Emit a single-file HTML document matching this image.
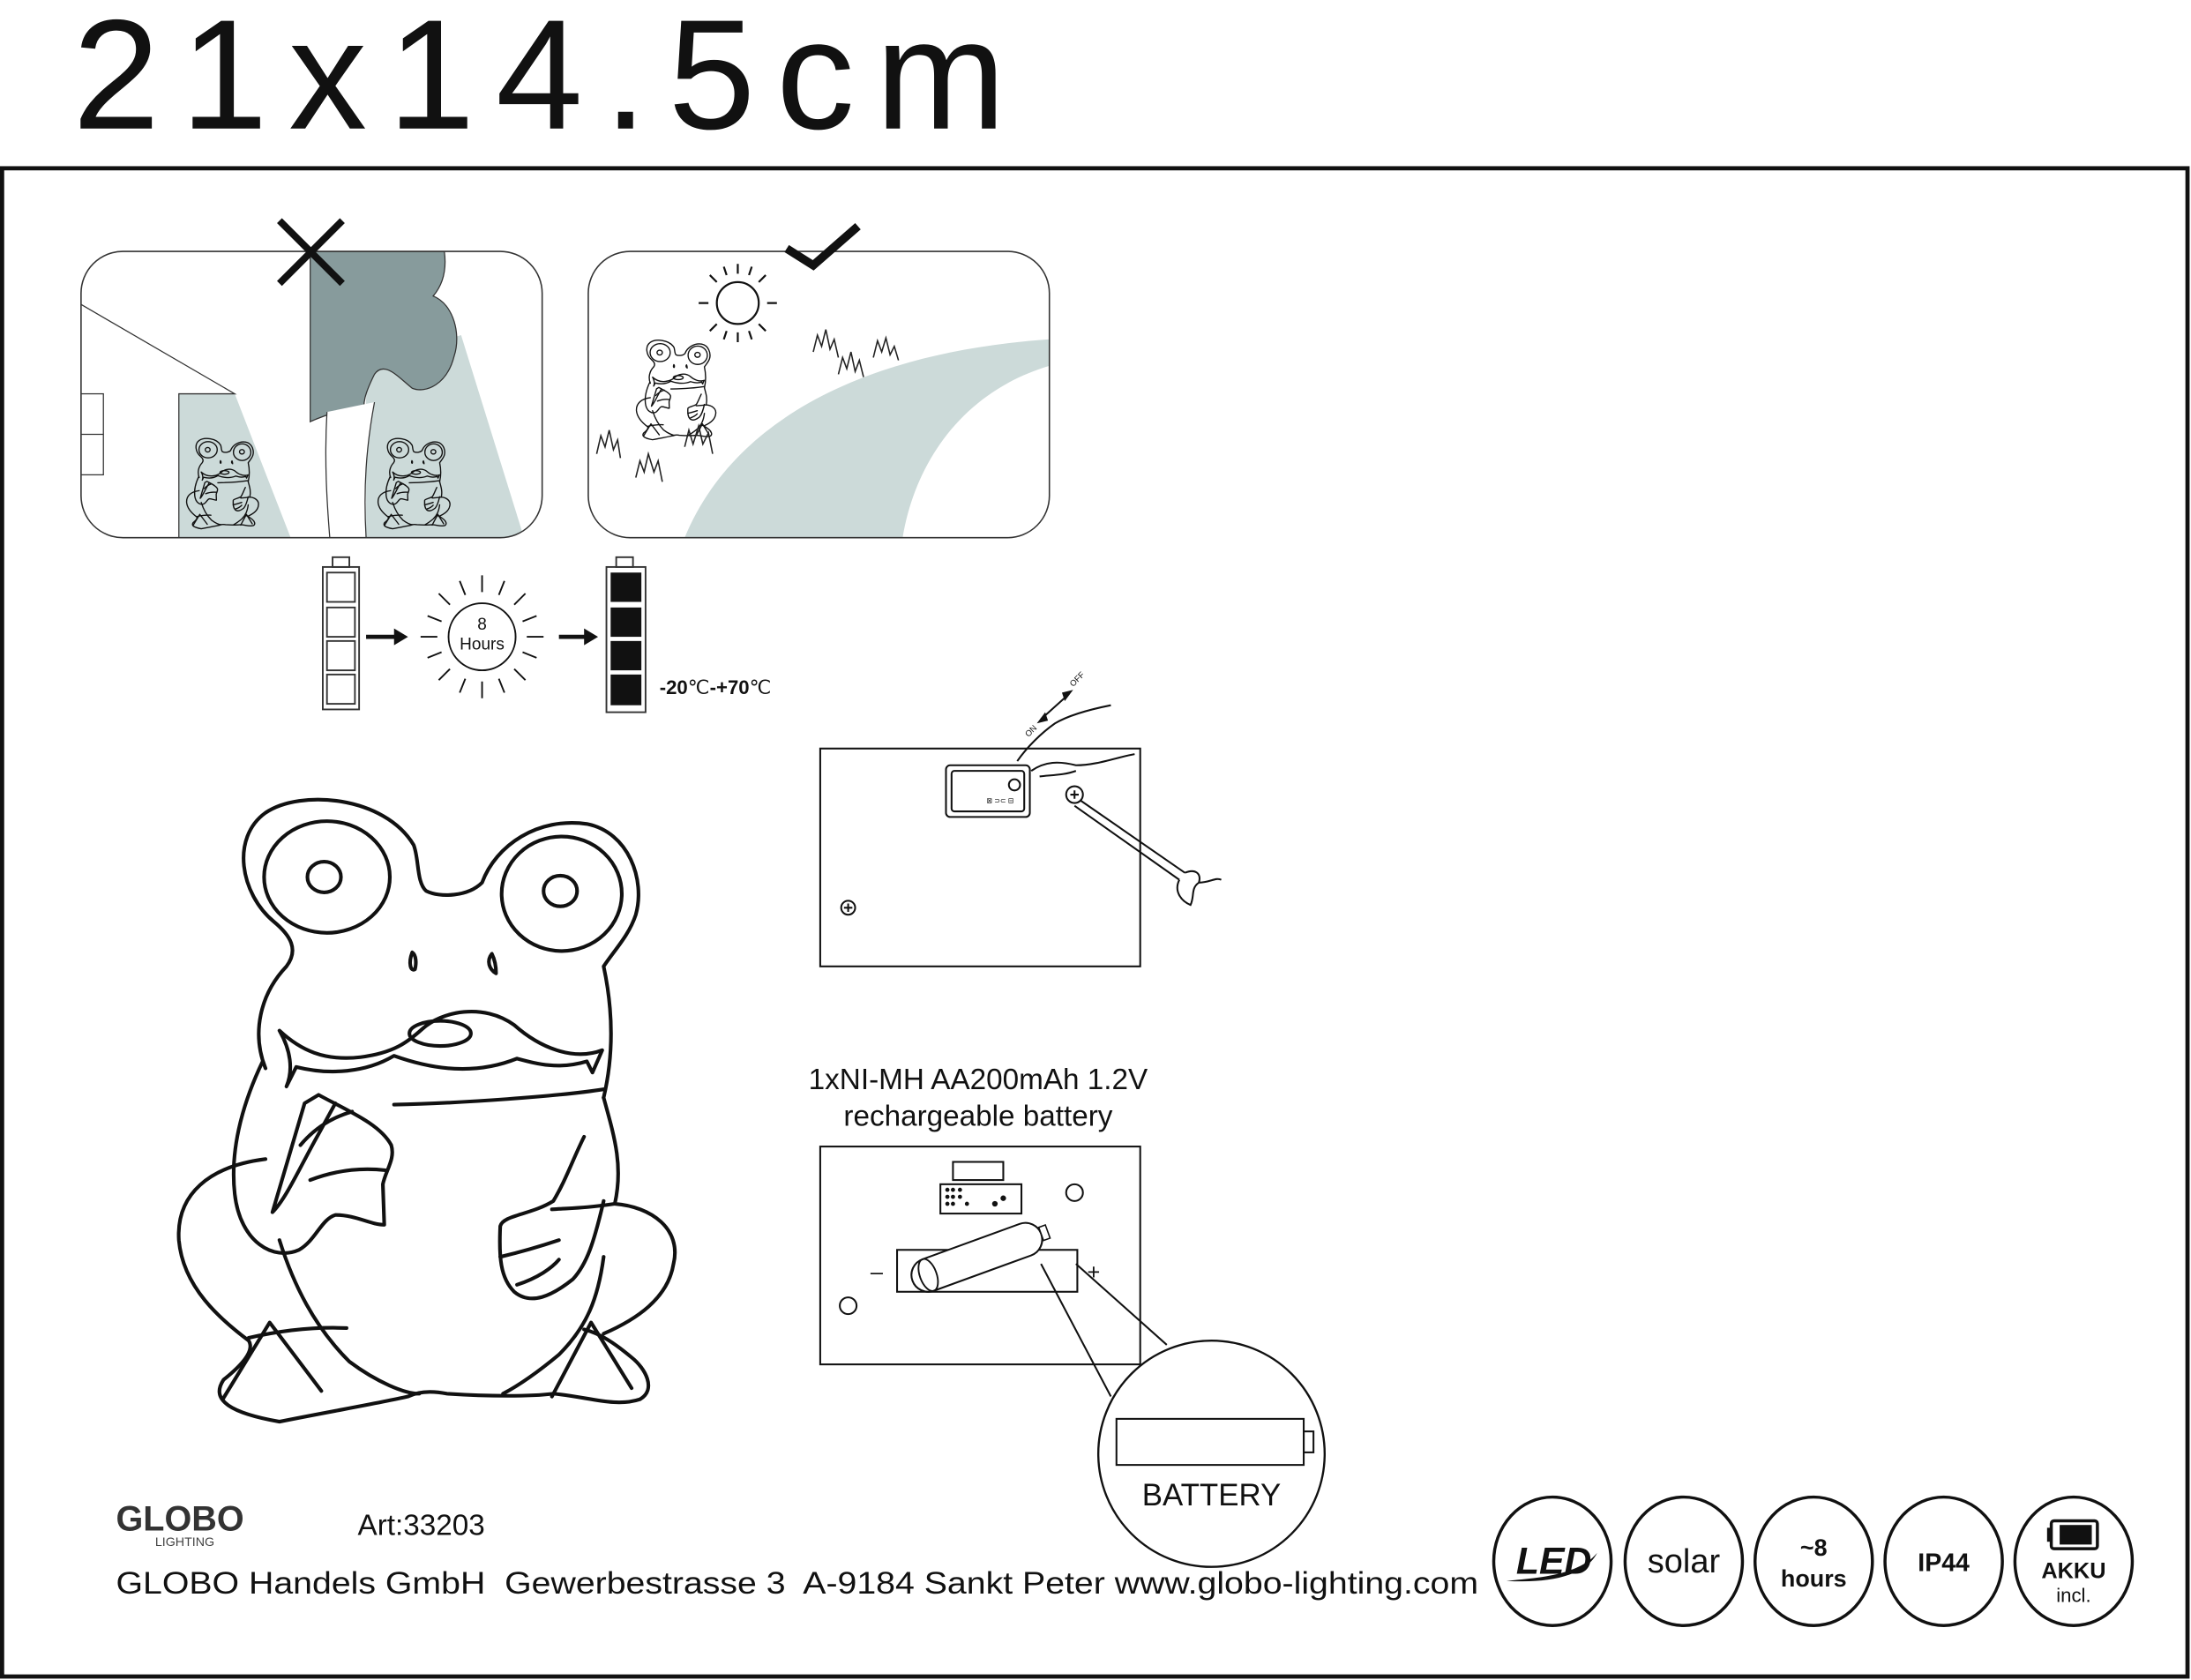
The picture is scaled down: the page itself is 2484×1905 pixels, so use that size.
<!DOCTYPE html>
<html><head><meta charset="utf-8"><style>
html,body{margin:0;padding:0;background:#fff}
svg{display:block}
text{font-family:"Liberation Sans",sans-serif;fill:#111}
</style></head><body>
<svg width="2484" height="1905" viewBox="0 0 1568 1203" preserveAspectRatio="none" xmlns="http://www.w3.org/2000/svg">
<defs>
<g id="frog" fill="none" stroke="#111" stroke-linecap="round" stroke-linejoin="round">
<path d="M190,765 C180,740 186,712 205,692 C214,680 208,670 196,660 C172,640 165,600 190,582 C215,565 275,570 296,605 C300,615 298,632 305,638 C315,643 335,642 345,632 C355,605 385,585 420,590 C450,596 462,630 455,655 C450,670 440,680 432,692 C438,720 440,752 432,786"/>
<ellipse cx="234" cy="628" rx="45" ry="40"/><ellipse cx="232" cy="628" rx="12" ry="11"/>
<ellipse cx="402" cy="640" rx="43" ry="41"/><ellipse cx="401" cy="638" rx="12" ry="11"/>
<path d="M295,682 C292,690 294,696 297,694 C298,690 298,684 295,682 Z"/>
<path d="M352,683 C348,688 350,694 355,697 C355,692 354,687 352,683 Z"/>
<path d="M200,738 C215,752 232,760 258,757 C282,754 292,746 302,737 C316,724 346,718 368,734 C386,750 410,760 431,752 L424,768 L420,760 C400,766 385,762 370,758 C340,770 310,766 282,756 C262,768 236,770 212,764 L205,778 C210,766 208,752 200,738 Z"/>
<ellipse cx="315" cy="740" rx="22" ry="9"/>
<path d="M282,791 C330,790 400,785 432,780"/>
<path d="M188,760 C176,785 164,820 168,855 C172,890 196,903 214,895 C226,888 230,873 240,870 C255,870 265,877 275,877 L274,848 C276,838 283,830 280,820 C272,805 250,796 228,784 L218,790 L195,868 C205,858 215,835 228,812 L240,790"/>
<path d="M215,820 C225,808 238,800 252,796"/>
<path d="M222,845 C240,838 258,836 276,838"/>
<path d="M190,830 C150,835 126,855 128,888 C131,922 158,945 178,960 C183,968 170,980 160,988 C150,1003 166,1012 200,1018 C240,1010 270,1005 292,1000 C300,996 310,996 320,998 C350,1000 380,1000 396,998 C420,1000 440,1008 458,1002 C470,995 462,980 452,972 C440,962 430,955 418,952"/>
<path d="M178,958 C200,953 225,950 248,951"/>
<path d="M160,1001 L193,947 L230,996"/>
<path d="M395,1000 L423,947 L452,994"/>
<path d="M432,786 C440,815 446,835 440,862 C466,864 488,880 482,905 C478,930 455,945 432,955 M440,862 C420,865 410,865 395,866"/>
<path d="M418,814 C410,830 405,845 396,860 C380,870 360,870 358,878 C357,900 358,915 368,925 C380,935 395,928 410,916 C420,905 425,890 432,860"/>
<path d="M358,900 C375,896 388,892 400,888 M370,920 C385,915 395,908 400,902"/>
<path d="M200,888 C210,920 225,950 250,975 C270,990 290,998 300,998"/>
<path d="M432,900 C428,930 420,950 400,970 C388,980 375,990 360,998"/>
</g>
</defs>

<text x="52" y="92" font-size="112" letter-spacing="15">21x14.5cm</text>
<rect x="1.5" y="120.5" width="1564" height="1080" fill="none" stroke="#111" stroke-width="3"/>

<!-- panel 1 -->
<clipPath id="c1"><rect x="58" y="180" width="330" height="205" rx="30"/></clipPath>
<g clip-path="url(#c1)">
<polygon points="128,282 168,282 208,385 128,385" fill="#ccdad9"/>
<polygon points="262,260 330,240 375,385 262,385" fill="#ccdad9"/>
<path d="M222,180 L318,180 C320,195 316,205 310,212 C325,218 330,240 325,255 C320,275 305,282 295,278 C285,270 275,258 268,268 C262,280 258,290 262,300 L250,300 C248,295 245,293 240,295 C232,298 226,300 222,302 Z" fill="#879b9c" stroke="#333" stroke-width="0.8"/>
<path d="M234,295 C232,330 234,360 236,385 L262,385 C260,350 262,320 268,288" fill="#fff" stroke="#333" stroke-width="0.8"/>
<path d="M58,218 L168,282 L128,282 L128,385" fill="none" stroke="#333" stroke-width="0.8"/>
<rect x="58" y="282" width="16" height="58" fill="none" stroke="#333" stroke-width="0.8"/>
<line x1="58" y1="311" x2="74" y2="311" stroke="#333" stroke-width="0.8"/>
<use href="#frog" transform="translate(115,231) scale(0.145)" stroke-width="6"/>
<use href="#frog" transform="translate(252,231) scale(0.145)" stroke-width="6"/>
</g>
<rect x="58" y="180" width="330" height="205" rx="30" fill="none" stroke="#333" stroke-width="1"/>
<path d="M200,158 L245,203 M245,158 L200,203" stroke="#111" stroke-width="5"/>

<!-- panel 2 -->
<clipPath id="c2"><rect x="421" y="180" width="330" height="205" rx="30"/></clipPath>
<g clip-path="url(#c2)">
<path d="M490,385 C525,300 620,252 751,243 L751,262 C690,280 655,330 646,385 Z" fill="#ccdad9"/>
<use href="#frog" transform="translate(435,152) scale(0.16)" stroke-width="5.5"/>
<path d="M427,325 L430,312 L433,320 L436,308 L439,322 L442,315 L444,328 M455,342 L458,330 L461,338 L464,325 L468,338 L471,330 L474,345 M490,320 L493,308 L496,318 L500,305 L503,318 L507,310 L510,325 M582,252 L585,240 L588,248 L591,236 L594,250 L597,243 L600,256 M600,268 L603,256 L606,264 L609,252 L612,266 L615,258 L618,270 M625,256 L628,244 L631,252 L634,242 L637,254 L640,248 L643,258" fill="none" stroke="#222" stroke-width="1"/>
</g>
<rect x="421" y="180" width="330" height="205" rx="30" fill="none" stroke="#333" stroke-width="1"/>
<path d="M563,178 L582,190 L614,162" fill="none" stroke="#111" stroke-width="6"/>
<g stroke="#111" stroke-width="1.4" fill="none">
<circle cx="528" cy="217" r="15"/>
<path d="M528,196 V189 M528,238 V245 M507,217 H500 M549,217 H556 M513,202 L508,197 M543,202 L548,197 M513,232 L508,237 M543,232 L548,237 M520,197 L518,191 M536,197 L538,191 M520,237 L518,243 M536,237 L538,243"/>
</g>

<!-- battery sequence -->
<g fill="none" stroke="#333" stroke-width="1.2">
<rect x="238" y="399" width="12" height="7"/>
<rect x="231" y="406" width="26" height="102"/>
<rect x="234" y="410" width="20" height="21"/><rect x="234" y="435" width="20" height="21"/><rect x="234" y="459" width="20" height="21"/><rect x="234" y="483" width="20" height="21"/>
<rect x="441" y="399" width="12" height="7"/>
<rect x="434" y="406" width="28" height="104"/>
</g>
<g fill="#111"><rect x="437" y="410" width="22" height="21"/><rect x="437" y="435" width="22" height="21"/><rect x="437" y="459" width="22" height="21"/><rect x="437" y="483" width="22" height="22"/></g>
<path d="M262,456 H283" stroke="#111" stroke-width="3"/><polygon points="282,450 292,456 282,462" fill="#111"/>
<path d="M400,456 H419" stroke="#111" stroke-width="3"/><polygon points="418,450 428,456 418,462" fill="#111"/>
<g stroke="#111" stroke-width="1.2" fill="none">
<circle cx="345" cy="456" r="24"/>
<path d="M345,424 V412 M345,488 V500 M313,456 H301 M377,456 H389 M322,433 L314,425 M368,433 L376,425 M322,479 L314,487 M368,479 L376,487 M333,426 L329,416 M357,426 L361,416 M333,486 L329,496 M357,486 L361,496 M316,445 L306,441 M374,445 L384,441 M316,467 L306,471 M374,467 L384,471"/>
</g>
<text x="345" y="451" font-size="12" text-anchor="middle">8</text>
<text x="345" y="465" font-size="12" text-anchor="middle">Hours</text>
<text x="472" y="497" font-size="14" font-weight="bold">-20<tspan font-weight="normal">℃</tspan>-+70<tspan font-weight="normal">℃</tspan></text>

<!-- big frog -->
<use href="#frog" stroke-width="2.6"/>

<!-- switch box -->
<g fill="none" stroke="#111" stroke-width="1.3">
<rect x="587" y="536" width="229" height="156"/>
<rect x="677" y="548" width="60" height="37" rx="3"/>
<rect x="681" y="552" width="52" height="29" rx="2"/>
<circle cx="607" cy="650" r="5"/><path d="M604,650 H610 M607,647 V653"/>
<circle cx="769" cy="569" r="6"/><path d="M766,569 H772 M769,566 V572"/>
<path d="M773,573 L848,625 M769,577 L844,630"/>
<path d="M848,625 C855,622 860,625 858,632 C866,632 870,628 874,630 M844,630 C840,638 845,645 852,648 C855,642 852,636 858,632"/>
<path d="M728,545 C735,535 745,525 755,518 C765,512 780,508 795,505 M738,552 C748,545 758,545 770,548 C785,548 800,542 812,540 M744,556 C752,555 762,555 770,552"/>
<circle cx="726" cy="562" r="4"/>
<path d="M745,515 L765,497"/>
</g>
<polygon points="742,518 748,510 750,516" fill="#111"/><polygon points="768,494 762,502 760,496" fill="#111"/>
<text x="736" y="528" font-size="6" transform="rotate(-45 736 528)">ON</text>
<text x="768" y="492" font-size="6" transform="rotate(-45 768 492)">OFF</text>
<text x="706" y="575" font-size="5">⊠ ⊃⊂ ⊟</text>

<!-- battery box -->
<text x="700" y="780" font-size="21" text-anchor="middle">1xNI-MH AA200mAh 1.2V</text>
<text x="700" y="806" font-size="21" text-anchor="middle">rechargeable battery</text>
<g fill="none" stroke="#111" stroke-width="1.3">
<rect x="587" y="821" width="229" height="156"/>
<rect x="682" y="832" width="36" height="13"/>
<rect x="673" y="848" width="58" height="21"/>
<circle cx="769" cy="854" r="6"/>
<circle cx="607" cy="935" r="6"/>
<rect x="642" y="895" width="129" height="30"/>
<path d="M745,905 L795,1000 M770,905 L835,963"/>
</g>
<g fill="#111">
<circle cx="678" cy="852" r="1.5"/><circle cx="682" cy="852" r="1.5"/><circle cx="678" cy="857" r="1.5"/><circle cx="682" cy="857" r="1.5"/><circle cx="678" cy="862" r="1.5"/><circle cx="682" cy="862" r="1.5"/><circle cx="687" cy="852" r="1.5"/><circle cx="687" cy="857" r="1.5"/><circle cx="692" cy="862" r="1.5"/><circle cx="712" cy="862" r="2"/><circle cx="718" cy="858" r="2"/>
</g>
<g transform="rotate(-20 700 900)">
<rect x="650" y="888" width="98" height="24" rx="12" fill="#fff" stroke="#111" stroke-width="1.3"/>
<ellipse cx="662" cy="900" rx="6" ry="12" fill="none" stroke="#111" stroke-width="1.2"/>
<rect x="748" y="895" width="5" height="10" fill="#fff" stroke="#111"/>
</g>
<text x="623" y="916" font-size="16">–</text>
<text x="778" y="916" font-size="16">+</text>
<circle cx="867" cy="1041" r="81" fill="#fff" stroke="#111" stroke-width="1.5"/>
<rect x="799" y="1016" width="134" height="33" fill="none" stroke="#111" stroke-width="1.3"/>
<rect x="933" y="1025" width="7" height="15" fill="none" stroke="#111" stroke-width="1.3"/>
<text x="867" y="1078" font-size="22" text-anchor="middle">BATTERY</text>

<!-- footer -->
<text x="83" y="1096" font-size="25" font-weight="bold" style="fill:#333">GLOBO</text>
<text x="111" y="1107" font-size="9" style="fill:#444">LIGHTING</text>
<text x="256" y="1099" font-size="21">Art:33203</text>
<text x="83" y="1141" font-size="22" textLength="975" lengthAdjust="spacingAndGlyphs" xml:space="preserve">GLOBO Handels GmbH  Gewerbestrasse 3  A-9184 Sankt Peter www.globo-lighting.com</text>

<!-- icons -->
<g fill="none" stroke="#111" stroke-width="2.2">
<ellipse cx="1111" cy="1118" rx="42" ry="46"/>
<ellipse cx="1205" cy="1118" rx="42" ry="46"/>
<ellipse cx="1298" cy="1118" rx="42" ry="46"/>
<ellipse cx="1391" cy="1118" rx="42" ry="46"/>
<ellipse cx="1484" cy="1118" rx="42" ry="46"/>
<rect x="1468" y="1089" width="33" height="20" rx="2"/>
</g>
<rect x="1474" y="1092" width="23" height="14" fill="#111"/>
<rect x="1465" y="1094" width="3" height="10" fill="#111"/>
<text x="1112" y="1127" font-size="27" font-weight="bold" font-style="italic" text-anchor="middle">LED</text>
<path d="M1078,1132 C1100,1130 1130,1128 1143,1112 C1135,1128 1110,1134 1078,1132 Z" fill="#111"/>
<text x="1205" y="1126" font-size="24" text-anchor="middle">solar</text>
<text x="1298" y="1114" font-size="17" font-weight="bold" text-anchor="middle">~8</text>
<text x="1298" y="1136" font-size="17" font-weight="bold" text-anchor="middle">hours</text>
<text x="1391" y="1125" font-size="18" font-weight="bold" text-anchor="middle">IP44</text>
<text x="1484" y="1130" font-size="16" font-weight="bold" text-anchor="middle">AKKU</text>
<text x="1484" y="1147" font-size="14" text-anchor="middle">incl.</text>
</svg>
</body></html>
